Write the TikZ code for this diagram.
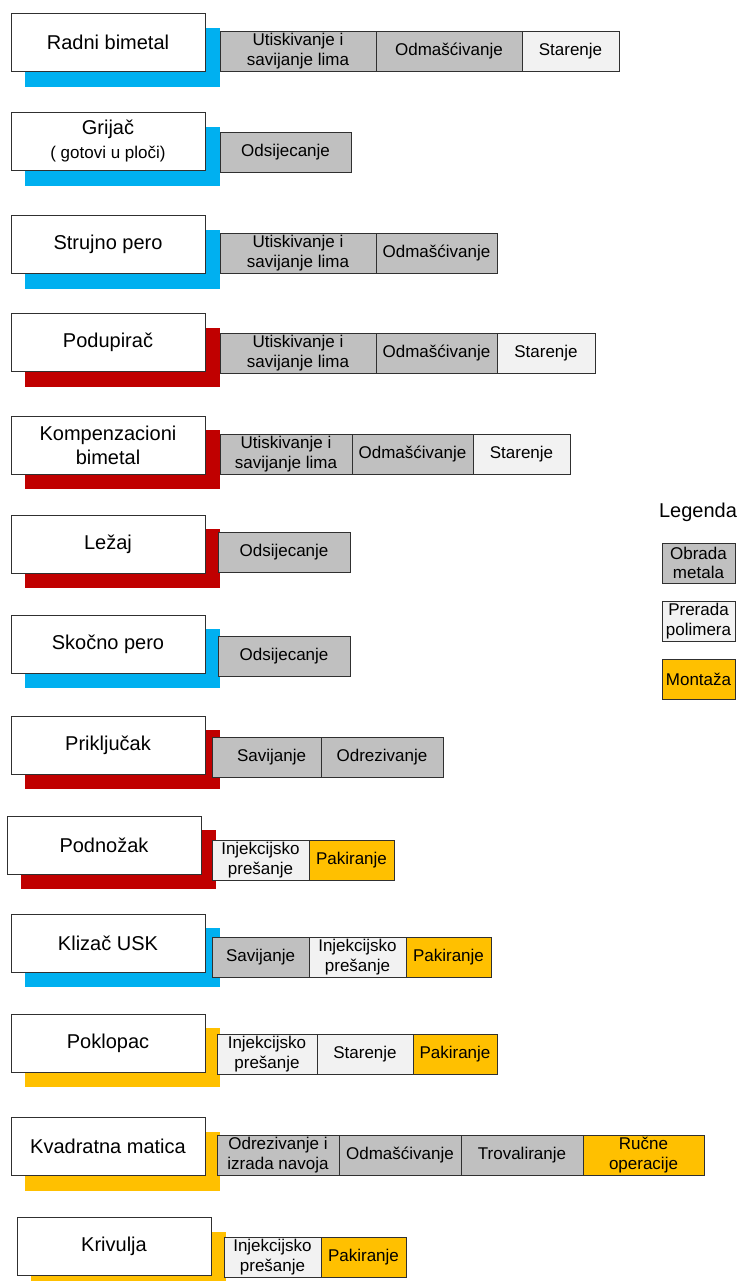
\documentclass[tikz,border=0pt]{standalone}
\usepackage{fontspec}
\setmainfont{Liberation Sans}
\definecolor{cblue}{HTML}{00B0F0}
\definecolor{cred}{HTML}{C00000}
\definecolor{cyel}{HTML}{FFC000}
\definecolor{cgray}{HTML}{C0C0C0}
\definecolor{clight}{HTML}{F2F2F2}
\definecolor{cline}{HTML}{303030}
\begin{document}
\begin{tikzpicture}[x=1pt,y=-1pt,
  mainbox/.style={draw=cline, line width=0.9pt, fill=white, anchor=north west, inner sep=0pt, outer sep=0pt,
    minimum width=194pt, minimum height=58pt, align=center, font=\fontsize{20}{24}\selectfont},
  shadowbox/.style={fill=#1, draw=none, anchor=north west, inner sep=0pt, outer sep=0pt,
    minimum width=195pt, minimum height=59pt},
  proc/.style={draw=cline, line width=0.8pt, anchor=north west, inner sep=0pt, outer sep=0pt,
    minimum height=40pt, align=center, font=\fontsize{17}{19.5}\selectfont},
  metal/.style={proc, fill=cgray},
  poly/.style={proc, fill=clight},
  mont/.style={proc, fill=cyel},
  legtitle/.style={anchor=base, inner sep=0pt, font=\fontsize{20}{24}\selectfont}
]
\useasboundingbox (0,0) rectangle (741,1281);
\begin{scope}
\clip (0,0) rectangle (741,1281);
% Row 1
\node[shadowbox=cblue] (s1) at (25,28) {};
\node[mainbox] (m1) at (11,13) {Radni bimetal};
\node[metal, minimum width=156pt] (p11) at (220,31) {Utiskivanje i\\savijanje lima};
\node[metal, minimum width=146pt] (p12) at (p11.north east) {Odmašćivanje};
\node[poly, minimum width=97pt] (p13) at (p12.north east) {Starenje};
% Row 2
\node[shadowbox=cblue] (s2) at (25,127) {};
\node[mainbox] (m2) at (11,112) {Grijač\\{\fontsize{17}{20}\selectfont ( gotovi u ploči)}};
\node[metal, minimum width=131pt] (p21) at (220,132) {Odsijecanje};
% Row 3
\node[shadowbox=cblue] (s3) at (25,230) {};
\node[mainbox] (m3) at (11,215) {Strujno pero};
\node[metal, minimum width=156pt] (p31) at (220,233) {Utiskivanje i\\savijanje lima};
\node[metal, minimum width=121pt] (p32) at (p31.north east) {Odmašćivanje};
% Row 4
\node[shadowbox=cred] (s4) at (25,328) {};
\node[mainbox] (m4) at (11,313) {Podupirač};
\node[metal, minimum width=156pt] (p41) at (220,333) {Utiskivanje i\\savijanje lima};
\node[metal, minimum width=121pt] (p42) at (p41.north east) {Odmašćivanje};
\node[poly, minimum width=98pt] (p43) at (p42.north east) {Starenje};
% Row 5
\node[shadowbox=cred] (s5) at (25,430) {};
\node[mainbox] (m5) at (11,416) {Kompenzacioni\\bimetal};
\node[metal, minimum width=132pt] (p51) at (220,434) {Utiskivanje i\\savijanje lima};
\node[metal, minimum width=121pt] (p52) at (p51.north east) {Odmašćivanje};
\node[poly, minimum width=97pt] (p53) at (p52.north east) {Starenje};
% Row 6
\node[shadowbox=cred] (s6) at (25,529) {};
\node[mainbox] (m6) at (11,515) {Ležaj};
\node[metal, minimum width=132pt] (p61) at (218,532) {Odsijecanje};
% Row 7
\node[shadowbox=cblue] (s7) at (25,629) {};
\node[mainbox] (m7) at (11,615) {Skočno pero};
\node[metal, minimum width=132pt] (p71) at (218,636) {Odsijecanje};
% Row 8
\node[shadowbox=cred] (s8) at (25,730) {};
\node[mainbox] (m8) at (11,716) {Priključak};
\node[metal, minimum width=109pt] (p81) at (212,737) {\hspace*{10pt}Savijanje};
\node[metal, minimum width=122pt] (p82) at (p81.north east) {Odrezivanje};
% Row 9
\node[shadowbox=cred] (s9) at (21,830) {};
\node[mainbox] (m9) at (7,816) {Podnožak};
\node[poly, minimum width=97pt] (p91) at (212,840) {Injekcijsko\\prešanje};
\node[mont, minimum width=85pt] (p92) at (p91.north east) {Pakiranje};
% Row 10
\node[shadowbox=cblue] (s10) at (25,928) {};
\node[mainbox] (m10) at (11,914) {Klizač USK};
\node[metal, minimum width=97pt] (p101) at (212,937) {Savijanje};
\node[poly, minimum width=97pt] (p102) at (p101.north east) {Injekcijsko\\prešanje};
\node[mont, minimum width=85pt] (p103) at (p102.north east) {Pakiranje};
% Row 11
\node[shadowbox=cyel] (s11) at (25,1028) {};
\node[mainbox] (m11) at (11,1014) {Poklopac};
\node[poly, minimum width=100pt] (p111) at (217,1034) {Injekcijsko\\prešanje};
\node[poly, minimum width=96pt] (p112) at (p111.north east) {Starenje};
\node[mont, minimum width=84pt] (p113) at (p112.north east) {Pakiranje};
% Row 12
\node[shadowbox=cyel] (s12) at (25,1132) {};
\node[mainbox] (m12) at (11,1117) {Kvadratna matica};
\node[metal, minimum width=122pt] (p121) at (217,1135) {Odrezivanje i\\izrada navoja};
\node[metal, minimum width=122pt] (p122) at (p121.north east) {Odmašćivanje};
\node[metal, minimum width=122pt] (p123) at (p122.north east) {Trovaliranje};
\node[mont, minimum width=121pt] (p124) at (p123.north east) {Ručne\\operacije};
% Row 13
\node[shadowbox=cyel] (s13) at (31,1232) {};
\node[mainbox] (m13) at (17,1217) {Krivulja};
\node[poly, minimum width=97pt] (p131) at (224,1237) {Injekcijsko\\prešanje};
\node[mont, minimum width=85pt] (p132) at (p131.north east) {Pakiranje};
\end{scope}
% Legend
\node[legtitle] (leg) at (698,517) {Legenda};
\node[metal, minimum width=73pt] (l1) at (662,543) {Obrada\\metala};
\node[poly, minimum width=73pt] (l2) at (662,601) {Prerada\\polimera};
\node[mont, minimum width=73pt] (l3) at (662,659) {Montaža};
\end{tikzpicture}
\end{document}
